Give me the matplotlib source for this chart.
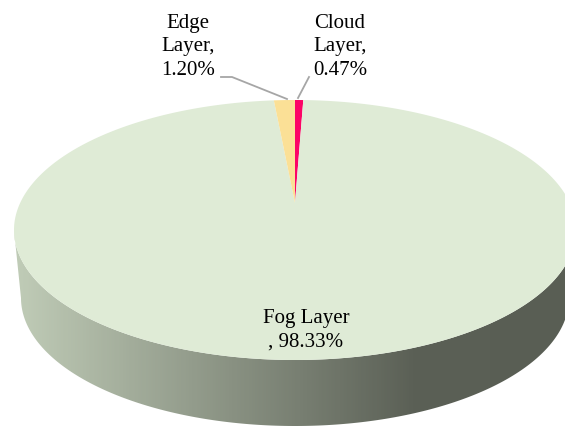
import numpy as np
import matplotlib
matplotlib.use('Agg')
import matplotlib.pyplot as plt
from matplotlib.patches import Polygon
from matplotlib.colors import LinearSegmentedColormap

# slice data, clockwise from 12 o'clock
labels = ['Cloud Layer', 'Fog Layer', 'Edge Layer']
shares = [0.47, 98.33, 1.20]
colors = ['#fc0466', '#dfebd6', '#fbe096']

plt.rcParams['font.family'] = ['Liberation Serif', 'DejaVu Serif']

W, H = 565, 426
fig = plt.figure(figsize=(W / 100, H / 100), dpi=100)
ax = fig.add_axes([0, 0, 1, 1])
ax.set_xlim(0, W)
ax.set_ylim(H, 0)
ax.axis('off')

# top face ellipse, bottom ellipse, slice apex (pixel-like coords)
cx, cy, a, b = 295, 230, 281, 130
bcx, bcy, ba, bb = 295, 298, 274, 128
apex = (295, 203)


def top_pt(t):
    return cx + a * np.cos(t), cy - b * np.sin(t)


# side wall: lower half of top ellipse + lower half of bottom ellipse
t = np.linspace(np.pi, 2 * np.pi, 200)
upper = np.column_stack([cx + a * np.cos(t), cy - b * np.sin(t)])
lower = np.column_stack([bcx + ba * np.cos(t), bcy - bb * np.sin(t)])[::-1]
side = Polygon(np.vstack([upper, lower]), closed=True, facecolor='none', edgecolor='none')
ax.add_patch(side)

side_cmap = LinearSegmentedColormap.from_list(
    'side', [(0.0, '#c0ccb7'), (0.72, '#5b6056'), (1.0, '#595e54')])
grad = np.linspace(0, 1, 300).reshape(1, -1)
img = ax.imshow(grad, cmap=side_cmap, aspect='auto',
                extent=(14, 570, 428, 226), zorder=1)
img.set_clip_path(side)

# top face slices
start = 90.0
fracs = np.array(shares) / sum(shares)
for share, frac, col in zip(shares, fracs, colors):
    sweep = 360 * frac
    angs = np.radians(np.linspace(start, start - sweep, max(int(sweep * 3), 4)))
    pts = [top_pt(ang) for ang in angs]
    poly = Polygon([apex] + pts, closed=True, facecolor=col, edgecolor='none', zorder=2)
    ax.add_patch(poly)
    start -= sweep

# labels
fs = 15
ax.text(306, 330, 'Fog Layer\n, 98.33%', ha='center', va='center',
        fontsize=fs, linespacing=1.3, zorder=3)
ax.text(188, 47, 'Edge\nLayer,\n1.20%', ha='center', va='center',
        fontsize=fs, linespacing=1.3, zorder=3)
ax.text(340, 47, 'Cloud\nLayer,\n0.47%', ha='center', va='center',
        fontsize=fs, linespacing=1.3, zorder=3)

# leader lines
ax.plot([221, 232, 287], [77, 77, 99], color='#a6a6a6', lw=1.3, zorder=3)
ax.plot([309, 298], [77, 98], color='#a6a6a6', lw=1.3, zorder=3)

fig.savefig('out.png', dpi=100)
